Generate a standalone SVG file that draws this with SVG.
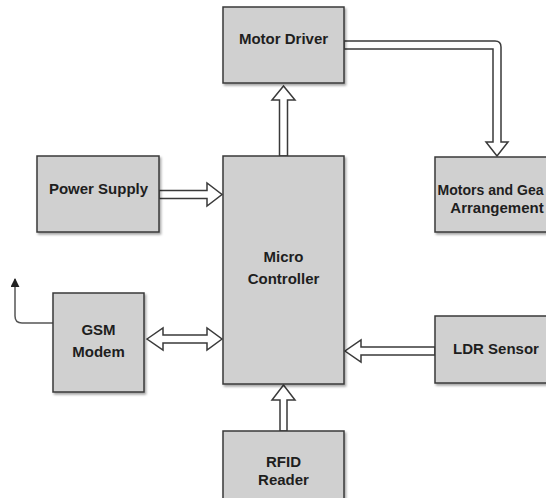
<svg xmlns="http://www.w3.org/2000/svg" width="546" height="498" viewBox="0 0 546 498">
<defs>
<filter id="sh" x="-10%" y="-10%" width="130%" height="130%"><feDropShadow dx="1.5" dy="2" stdDeviation="1.2" flood-color="#000" flood-opacity="0.35"/></filter>
<marker id="ah" viewBox="0 0 10 10" refX="9" refY="5" markerWidth="6" markerHeight="6" orient="auto"><path d="M0,0 L10,5 L0,10 Z" fill="#222"/></marker>
<style>
.box{fill:#d0d0d0;stroke:#3a3a3a;stroke-width:1.5;filter:url(#sh)}
.t{font-family:"Liberation Sans",Arial,sans-serif;font-weight:bold;font-size:15px;fill:#1e1e1e;text-anchor:middle}
.ar{fill:#fff;stroke:#3a3a3a;stroke-width:1.5;stroke-linejoin:miter}
.ln{fill:none;stroke:#555;stroke-width:1.5}
</style>
</defs>
<rect width="546" height="498" fill="#fff"/>
<g id="connectors">
<path class="ar" d="M279.5,156 V100 H272 L283.5,86 L295,100 H287.5 V156 Z"/>
<path class="ar" d="M344,41 H495 Q501,41 501,47 V142 H508 L497,156 L486,142 H493 V49 H344 Z"/>
<path class="ar" d="M159,190.5 H207 V183 L222,194.5 L207,206 V198.5 H159 Z"/>
<path class="ar" d="M147,339 L163,328 V335 H207 V328 L222,339 L207,350 V343 H163 V350 Z"/>
<path class="ar" d="M435,347 H361 V340 L345,351 L361,362 V355 H435 Z"/>
<path class="ar" d="M280,431 V400 H272 L283.5,385 L295,400 H287 V431 Z"/>
<path class="ln" d="M53,323 H22 Q15,323 15,316 V279" marker-end="url(#ah)"/>
</g>
<g id="motor-driver"><rect class="box" x="223" y="7" width="121" height="76"/><text class="t" x="283.5" y="44">Motor Driver</text></g>
<g id="power-supply"><rect class="box" x="37" y="156" width="122" height="76"/><text class="t" x="98.5" y="194">Power Supply</text></g>
<g id="micro-controller"><rect class="box" x="223" y="156" width="121" height="228"/><text class="t" x="283.5" y="262">Micro</text><text class="t" x="283.5" y="284">Controller</text></g>
<g id="motors"><rect class="box" x="435" y="157" width="125" height="75"/><text class="t" x="437.5" y="195" style="text-anchor:start" textLength="106" lengthAdjust="spacingAndGlyphs">Motors and Gea</text><text class="t" x="497" y="213">Arrangement</text></g>
<g id="gsm"><rect class="box" x="53" y="293" width="91" height="99"/><text class="t" x="98.5" y="335">GSM</text><text class="t" x="98.5" y="357">Modem</text></g>
<g id="ldr"><rect class="box" x="435" y="316" width="125" height="67"/><text class="t" x="496" y="354">LDR Sensor</text></g>
<g id="rfid"><rect class="box" x="223" y="431" width="121" height="80"/><text class="t" x="283.5" y="467">RFID</text><text class="t" x="283.5" y="485">Reader</text></g>
</svg>
